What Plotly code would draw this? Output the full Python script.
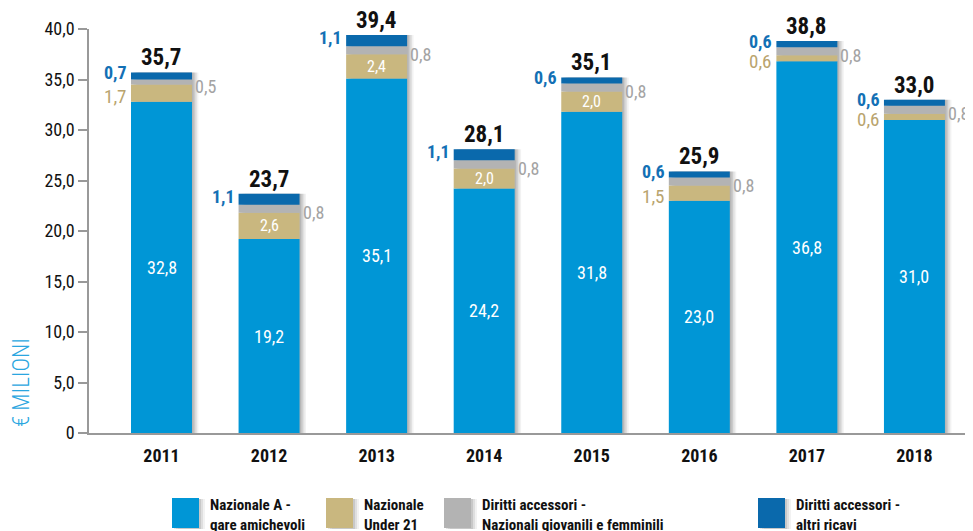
import plotly.graph_objects as go

years = ["2011", "2012", "2013", "2014", "2015", "2016", "2017", "2018"]
naz_a = [32.8, 19.2, 35.1, 24.2, 31.8, 23.0, 36.8, 31.0]
under21 = [1.7, 2.6, 2.4, 2.0, 2.0, 1.5, 0.6, 0.6]
giovanili = [0.5, 0.8, 0.8, 0.8, 0.8, 0.8, 0.8, 0.8]
altri = [0.7, 1.1, 1.1, 1.1, 0.6, 0.6, 0.6, 0.6]
totals = [35.7, 23.7, 39.4, 28.1, 35.1, 25.9, 38.8, 33.0]
y_ticks = [0, 5, 10, 15, 20, 25, 30, 35, 40]
y_ticktext = ["0", "5,0", "10,0", "15,0", "20,0", "25,0", "30,0", "35,0", "40,0"]
series_names = ["Nazionale A -<br>gare amichevoli", "Nazionale<br>Under 21",
                "Diritti accessori -<br>Nazionali giovanili e femminili",
                "Diritti accessori -<br>altri ricavi"]
colors = ["#0096d6", "#c9b77f", "#b3b3b3", "#0a69ac"]
label_colors = {"u21": "#b9a46e", "giov": "#a3a3a3", "altri": "#1370b5"}

FONT = "Roboto Condensed, Open Sans Condensed, sans-serif"
X0, X1 = -0.674, 7.47
W = 0.567
x = list(range(len(years)))

# page is offset by the 8px default body margin
OFF = 8
PL, PR, PT, PB = 89, 965, 29, 433  # plot area in page pixels
PX_PER_UNIT = (PR - PL) / (X1 - X0)

def fmt(v):
    return f"{v:.1f}".replace(".", ",")

series = [naz_a, under21, giovanili, altri]
bases = []
run = [0.0] * len(years)
for s in series:
    bases.append(run[:])
    run = [r + v for r, v in zip(run, s)]
stack_top = run

fig = go.Figure()
# soft shadows
for off, alpha in [(0.06, 0.05), (0.045, 0.07), (0.03, 0.09), (0.015, 0.1)]:
    fig.add_trace(go.Bar(x=x, y=stack_top, width=W, offset=-W / 2 + off,
                         marker=dict(color=f"rgba(0,0,0,{alpha})", line=dict(width=0)),
                         showlegend=False, hoverinfo="skip"))
for s, b, c, n in zip(series, bases, colors, series_names):
    fig.add_trace(go.Bar(x=x, y=s, base=b, width=W, offset=-W / 2,
                         marker=dict(color=c, line=dict(width=0)), name=n,
                         showlegend=False))

ann = []
half_px = W / 2 * PX_PER_UNIT
for i in x:
    ann.append(dict(x=i, y=stack_top[i], text=f"<b>{fmt(totals[i])}</b>", showarrow=False,
                    yanchor="bottom", yshift=-1, font=dict(size=23, color="#111", family=FONT)))
    ann.append(dict(x=i, y=naz_a[i] / 2, text=fmt(naz_a[i]), showarrow=False,
                    font=dict(size=18, color="white", family=FONT)))
    yc = bases[1][i] + under21[i] / 2
    if under21[i] >= 2.0:
        ann.append(dict(x=i, y=yc, text=fmt(under21[i]), showarrow=False,
                        font=dict(size=16, color="white", family=FONT)))
    else:
        ann.append(dict(x=i, y=yc, text=fmt(under21[i]), showarrow=False, xanchor="right",
                        xshift=-half_px - 2, yshift=-3,
                        font=dict(size=19, color=label_colors["u21"], family=FONT)))
    yc = bases[2][i] + giovanili[i] / 2
    ann.append(dict(x=i, y=yc, text=fmt(giovanili[i]), showarrow=False, xanchor="left",
                    xshift=half_px + 1, yshift=-4,
                    font=dict(size=18, color=label_colors["giov"], family=FONT)))
    yc = bases[3][i] + altri[i] / 2
    ann.append(dict(x=i, y=yc, text=f"<b>{fmt(altri[i])}</b>", showarrow=False, xanchor="right",
                    xshift=-half_px - 2, yshift=3,
                    font=dict(size=18, color=label_colors["altri"], family=FONT)))

def px_x(p):
    return (p - PL) / (PR - PL)

def px_y(p):
    return (PB - p) / (PB - PT)

ann.append(dict(xref="paper", yref="paper", x=px_x(21), y=px_y(383), xanchor="center",
                yanchor="middle", text="€ MILIONI", textangle=-90, showarrow=False,
                font=dict(size=23, color="#2aa6e0", family=FONT, weight=300)))

shapes = []
sw_x = [172, 326, 444, 758]
tx_x = [208, 362, 480, 794]
for sx, tx, c, n in zip(sw_x, tx_x, colors, series_names):
    for d, a in [(6, 0.05), (4, 0.08), (2, 0.1)]:
        shapes.append(dict(type="rect", xref="paper", yref="paper",
                           x0=px_x(sx + d), x1=px_x(sx + 27 + d), y0=px_y(528 + 1), y1=px_y(498 + 1),
                           fillcolor=f"rgba(0,0,0,{a})", line=dict(width=0)))
    shapes.append(dict(type="rect", xref="paper", yref="paper",
                       x0=px_x(sx), x1=px_x(sx + 27), y0=px_y(528), y1=px_y(498),
                       fillcolor=c, line=dict(width=0)))
    ann.append(dict(xref="paper", yref="paper", x=px_x(tx), y=px_y(494), xanchor="left",
                    yanchor="top", align="left", showarrow=False, text=f"<b>{n}</b>",
                    font=dict(size=15, color="#111", family=FONT)))

fig.update_layout(
    width=973 - OFF, height=531 - OFF,
    margin=dict(l=PL - OFF, r=973 - PR, t=PT - OFF, b=531 - PB, autoexpand=False),
    barmode="overlay",
    plot_bgcolor="white", paper_bgcolor="white",
    font=dict(family=FONT, color="#111"),
    annotations=ann, shapes=shapes,
    showlegend=False,
    xaxis=dict(range=[X0, X1], tickvals=x, ticktext=[f"<b>{y}</b>" for y in years],
               tickfont=dict(size=18, color="#111", family=FONT), showgrid=False,
               zeroline=False, showline=True, linecolor="#999", linewidth=1.5,
               ticks="", ticklabelstandoff=6, automargin=False),
    yaxis=dict(range=[0, 40], tickvals=y_ticks, ticktext=y_ticktext,
               tickfont=dict(size=18, color="#111", family=FONT), showgrid=False,
               zeroline=False, showline=True, linecolor="#999", linewidth=1.5,
               ticks="outside", ticklen=9, tickcolor="#999", tickwidth=1.5,
               automargin=False),
)

fig.write_html("out.html")
